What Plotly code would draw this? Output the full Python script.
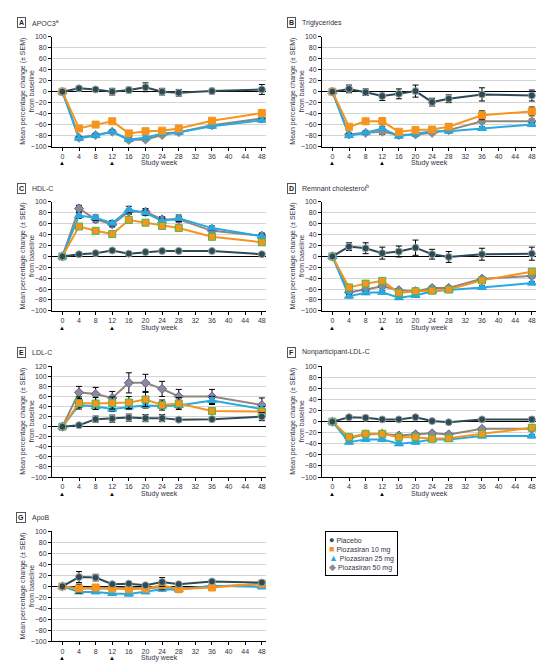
import plotly.graph_objects as go

# ---- data ----
weeks = [0, 4, 8, 12, 16, 20, 24, 28, 36, 48]
week_ticks = [0, 4, 8, 12, 16, 20, 24, 28, 32, 36, 40, 44, 48]
dose_weeks = [0, 12]

group_names = ["Placebo", "Piozasiran 10 mg", "Piozasiran 25 mg", "Piozasiran 50 mg"]

# A - APOC3
apoc3_placebo = [0, 6, 4, 0, 3, 8, 0, -2, 1, 4]
apoc3_placebo_sem = [0, 3, 3, 6, 5, 8, 6, 6, 5, 9]
apoc3_10 = [0, -67, -60, -54, -76, -72, -71, -67, -53, -39]
apoc3_25 = [0, -85, -80, -73, -87, -84, -76, -74, -63, -52]
apoc3_50 = [0, -84, -79, -73, -88, -87, -79, -74, -61, -49]

# B - Triglycerides
tg_placebo = [0, 5, -1, -8, -4, 1, -19, -13, -5, -7]
tg_placebo_sem = [0, 7, 6, 8, 9, 11, 7, 7, 12, 10]
tg_10 = [0, -64, -54, -54, -73, -70, -69, -64, -43, -36]
tg_10_sem = [0, 3, 4, 6, 3, 3, 3, 6, 8, 8]
tg_25 = [0, -80, -75, -67, -81, -77, -72, -72, -67, -60]
tg_50 = [0, -78, -75, -73, -79, -78, -75, -70, -54, -54]
tg_50_sem = [0, 3, 3, 5, 3, 3, 3, 3, 4, 4]

# C - HDL-C
hdl_placebo = [0, 4, 6, 11, 5, 8, 10, 10, 10, 4]
hdl_10 = [0, 55, 47, 41, 67, 62, 56, 52, 36, 26]
hdl_25 = [0, 75, 71, 61, 86, 80, 65, 70, 52, 37]
hdl_25_sem = [0, 5, 5, 5, 6, 5, 5, 6, 4, 4]
hdl_50 = [0, 88, 68, 59, 82, 82, 68, 68, 47, 38]
hdl_50_sem = [0, 6, 5, 5, 5, 6, 5, 5, 4, 5]

# D - Remnant cholesterol
rem_placebo = [0, 18, 15, 6, 9, 16, 4, -1, 4, 5]
rem_placebo_sem = [0, 7, 10, 11, 10, 14, 9, 10, 11, 12]
rem_10 = [0, -57, -50, -45, -67, -64, -63, -61, -44, -28]
rem_10_sem = [0, 3, 3, 5, 3, 3, 3, 3, 4, 4]
rem_25 = [0, -73, -67, -66, -76, -72, -64, -62, -57, -49]
rem_50 = [0, -66, -61, -55, -62, -64, -58, -58, -41, -36]

# E - LDL-C
ldl_placebo = [0, 3, 15, 16, 18, 17, 17, 14, 15, 20]
ldl_placebo_sem = [0, 2, 6, 7, 7, 7, 7, 4, 4, 8]
ldl_10 = [0, 47, 46, 47, 48, 54, 43, 46, 31, 30]
ldl_10_sem = [0, 12, 12, 12, 12, 14, 10, 12, 4, 4]
ldl_25 = [0, 43, 40, 35, 39, 42, 41, 42, 52, 35]
ldl_25_sem = [0, 5, 5, 5, 5, 5, 5, 5, 8, 5]
ldl_50 = [0, 68, 65, 57, 87, 87, 75, 60, 60, 43]
ldl_50_sem = [0, 12, 13, 13, 20, 17, 15, 14, 14, 14]

# F - Nonparticipant-LDL-C
np_placebo = [0, 8, 7, 4, 4, 8, 1, -1, 4, 4]
np_placebo_sem = [0, 2, 2, 2, 2, 2, 2, 2, 3, 4]
np_10 = [0, -28, -22, -22, -28, -28, -31, -30, -22, -11]
np_25 = [0, -37, -32, -32, -40, -37, -32, -32, -26, -26]
np_50 = [0, -30, -23, -22, -25, -23, -21, -23, -13, -13]

# G - ApoB
apob_placebo = [0, 17, 16, 4, 5, 2, 8, 4, 9, 7]
apob_placebo_sem = [0, 10, 6, 2, 2, 2, 8, 2, 2, 2]
apob_10 = [0, -4, -2, -4, -5, -4, 2, -5, -2, 5]
apob_10_sem = [0, 8, 3, 3, 3, 3, 8, 3, 3, 3]
apob_25 = [0, -10, -10, -13, -14, -10, -5, -6, 1, -1]
apob_50 = [0, -4, -4, -4, -2, -4, -1, -4, 0, 4]

small_sem = [0, 3, 3, 3, 3, 3, 3, 3, 3, 3]

# letter, title, [placebo, 10, 25, 50], [sems], outlined markers, y range
panels = [
    ("A", "APOC3<sup>a</sup>", [apoc3_placebo, apoc3_10, apoc3_25, apoc3_50],
     [apoc3_placebo_sem, small_sem, small_sem, small_sem], False, [-100, 100]),
    ("B", "Triglycerides", [tg_placebo, tg_10, tg_25, tg_50],
     [tg_placebo_sem, tg_10_sem, small_sem, tg_50_sem], False, [-100, 100]),
    ("C", "HDL-C", [hdl_placebo, hdl_10, hdl_25, hdl_50],
     [small_sem, small_sem, hdl_25_sem, hdl_50_sem], True, [-100, 100]),
    ("D", "Remnant cholesterol<sup>b</sup>", [rem_placebo, rem_10, rem_25, rem_50],
     [rem_placebo_sem, rem_10_sem, small_sem, small_sem], True, [-100, 100]),
    ("E", "LDL-C", [ldl_placebo, ldl_10, ldl_25, ldl_50],
     [ldl_placebo_sem, ldl_10_sem, ldl_25_sem, ldl_50_sem], True, [-100, 120]),
    ("F", "Nonparticipant-LDL-C", [np_placebo, np_10, np_25, np_50],
     [np_placebo_sem, small_sem, small_sem, small_sem], True, [-100, 100]),
    ("G", "ApoB", [apob_placebo, apob_10, apob_25, apob_50],
     [apob_placebo_sem, apob_10_sem, small_sem, small_sem], False, [-100, 100]),
]

# ---- layout geometry (pixels) ----
W, H = 547, 666
col_px = [(44, 258), (314, 528)]
row_px = [(25, 136), (192, 302), (358, 470), (525, 636)]
col_label_x = [13, 283]
col_ytitle_x = [19, 289]

FONT = "Liberation Sans Narrow, Arial Narrow, Liberation Sans, sans-serif"
TXT = "#333344"

styles = [
    dict(symbol="circle", color="#2e4a55", size=7, line="#2e4a55", mline="#9aa6ab", glyph="●"),
    dict(symbol="square", color="#f7941d", size=7, line="#f7941d", mline="#f7941d", glyph="■"),
    dict(symbol="triangle-up", color="#29a9e0", size=8, line="#29a9e0", mline="#29a9e0", glyph="▲"),
    dict(symbol="diamond", color="#8c8c8c", size=7, line="#8f877c", mline="#8c8c8c", glyph="◆"),
]
outline_colors = ["#9aa6ab", "#4db848", "#29a9e0", "#6a58b0"]

fig = go.Figure()
annotations = []
layout_axes = {}

for i, (letter, title, series, sems, outlined, yr) in enumerate(panels):
    n = i + 1
    r, c = divmod(i, 2)
    x0, x1 = col_px[c]
    top, bot = row_px[r]
    xa = "xaxis" if n == 1 else f"xaxis{n}"
    ya = "yaxis" if n == 1 else f"yaxis{n}"
    xr = "x" if n == 1 else f"x{n}"
    yr_ref = "y" if n == 1 else f"y{n}"

    layout_axes[xa] = dict(
        domain=[x0 / W, x1 / W], anchor=yr_ref, range=[-2.5, 49],
        tickvals=week_ticks, showgrid=False, zeroline=False,
        showline=True, linecolor="black", linewidth=1,
        ticks="outside", ticklen=3, tickcolor="black",
        tickfont=dict(size=7, color=TXT, family=FONT),
    )
    layout_axes[ya] = dict(
        domain=[1 - bot / H, 1 - top / H], anchor=xr, range=yr, dtick=20,
        showgrid=True, gridcolor="#d4d4d4", gridwidth=1,
        zeroline=True, zerolinecolor="black", zerolinewidth=1.3,
        showline=True, linecolor="black", linewidth=1,
        ticks="outside", ticklen=3, tickcolor="black",
        tickfont=dict(size=7, color=TXT, family=FONT),
    )

    # draw order: 50 mg, 25 mg, 10 mg, placebo on top
    for g in [3, 2, 1, 0]:
        st = styles[g]
        mline = outline_colors[g] if outlined else st["mline"]
        fig.add_trace(go.Scatter(
            x=weeks, y=series[g], xaxis=xr, yaxis=yr_ref,
            mode="lines+markers", showlegend=False, name=group_names[g],
            line=dict(color=st["line"], width=2),
            marker=dict(symbol=st["symbol"], size=st["size"], color=st["color"],
                        line=dict(color=mline, width=1)),
            error_y=dict(type="data", array=sems[g], color="black",
                         thickness=1, width=3),
        ))

    # panel letter box and title
    annotations.append(dict(
        text=f"<b>{letter}</b>", x=col_label_x[c] / W, y=1 - (top - 14) / H,
        xref="paper", yref="paper", showarrow=False, xanchor="center", yanchor="middle",
        bordercolor="#555555", borderwidth=1, borderpad=1,
        font=dict(size=7, color="#222222", family=FONT),
    ))
    annotations.append(dict(
        text=title, x=(col_label_x[c] + 9) / W, y=1 - (top - 14) / H,
        xref="paper", yref="paper", showarrow=False, xanchor="left", yanchor="middle",
        font=dict(size=7, color=TXT, family=FONT),
    ))
    # y title
    annotations.append(dict(
        text="Mean percentage change (± SEM)<br>from baseline", textangle=-90,
        x=col_ytitle_x[c] / W, y=1 - (top + bot) / 2 / H,
        xref="paper", yref="paper", showarrow=False, xanchor="center", yanchor="middle",
        font=dict(size=7, color=TXT, family=FONT),
    ))
    # x title
    annotations.append(dict(
        text="Study week", x=(x0 + x1) / 2 / W, y=1 - (bot + 17) / H,
        xref="paper", yref="paper", showarrow=False, xanchor="center", yanchor="middle",
        font=dict(size=7, color=TXT, family=FONT),
    ))
    # dosing arrows
    for d in dose_weeks:
        annotations.append(dict(
            text="▲", x=d, y=1 - (bot + 17) / H, xref=xr, yref="paper",
            showarrow=False, xanchor="center", yanchor="middle",
            font=dict(size=6, color="black"),
        ))

# compact legend box drawn as a bordered annotation
legend_lines = [
    f"<span style='color:{st['color']};font-size:9px'>{st['glyph']}</span> {name}"
    for st, name in zip(styles, group_names)
]
annotations.append(dict(
    text="<br>".join(legend_lines), align="left",
    x=317 / W, y=1 - 525 / H, xref="paper", yref="paper",
    xanchor="left", yanchor="top", showarrow=False,
    bordercolor="black", borderwidth=1, borderpad=3, bgcolor="white",
    font=dict(size=7, color=TXT, family=FONT),
))

fig.update_layout(
    width=W, height=H,
    margin=dict(l=0, r=0, t=0, b=0),
    paper_bgcolor="white", plot_bgcolor="white",
    annotations=annotations,
    showlegend=False,
    **layout_axes,
)

fig.write_html("out.html")
